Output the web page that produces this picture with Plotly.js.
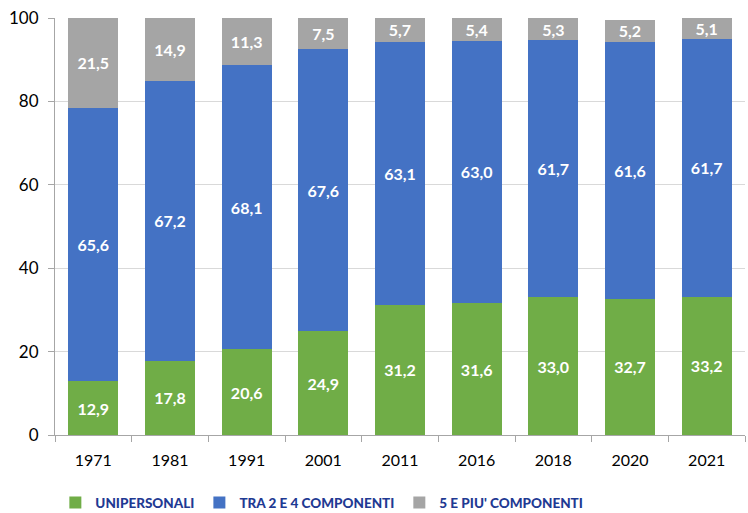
<!DOCTYPE html>
<html><head><meta charset="utf-8">
<script src="https://cdn.plot.ly/plotly-3.0.1.min.js"></script>
<style>html,body{margin:0;padding:0;background:#fff}#chart{width:748px;height:513px}</style>
</head><body><div id="chart"></div>
<script>
const years = ['1971','1981','1991','2001','2011','2016','2018','2020','2021'];
const unipersonali = [12.9,17.8,20.6,24.9,31.2,31.6,33.0,32.7,33.2];
const tra2e4 = [65.6,67.2,68.1,67.6,63.1,63.0,61.7,61.6,61.7];
const cinqueEPiu = [21.5,14.9,11.3,7.5,5.7,5.4,5.3,5.2,5.1];
const names = ['UNIPERSONALI','TRA 2 E 4 COMPONENTI',"5 E PIU' COMPONENTI"];
const colors = ['#70AD47','#4472C4','#A5A5A5'];
const series = [unipersonali, tra2e4, cinqueEPiu];
const FONT = 'Lato, "Open Sans", sans-serif';
const traces = series.map((vals,i)=>({
  type:'bar', x:years, y:vals, name:names[i],
  marker:{color:colors[i]},
  texttemplate:'%{y:.1f}', textposition:'inside', insidetextanchor:'middle',
  constraintext:'none',
  textfont:{color:'#fff', size:16, family:FONT, weight:700},
  hoverinfo:'skip'
}));
const layout = {
  width:748, height:513, barmode:'stack', bargap:0.35,
  separators:',.',
  margin:{l:55,r:3,t:18,b:78, autoexpand:false},
  paper_bgcolor:'#fff', plot_bgcolor:'#fff',
  font:{family:FONT, size:15, color:'#000'},
  xaxis:{type:'category', showline:true, linecolor:'#A6A6A6', linewidth:1,
    ticks:'outside', tickson:'boundaries', ticklen:6, tickcolor:'#A6A6A6',
    ticklabelstandoff:11,
    tickfont:{size:16, family:FONT, color:'#000'}, showgrid:false},
  yaxis:{range:[0,100], tickvals:[0,20,40,60,80,100], showline:true, linecolor:'#A6A6A6',
    ticks:'outside', ticklen:6, tickcolor:'#A6A6A6', ticklabelstandoff:6,
    gridcolor:'#D9D9D9', gridwidth:1, zeroline:false,
    tickfont:{size:17, family:FONT, color:'#000'}},
  showlegend:true,
  legend:{orientation:'h', x:0.074, xanchor:'left', xref:'container', y:0.02, yanchor:'middle', yref:'container',
    font:{size:13.5, family:FONT, color:'#1F3A93', weight:900},
    itemwidth:30, traceorder:'normal', itemgap:0}
};
Plotly.newPlot('chart', traces, layout, {staticPlot:true, displayModeBar:false});
</script></body></html>
